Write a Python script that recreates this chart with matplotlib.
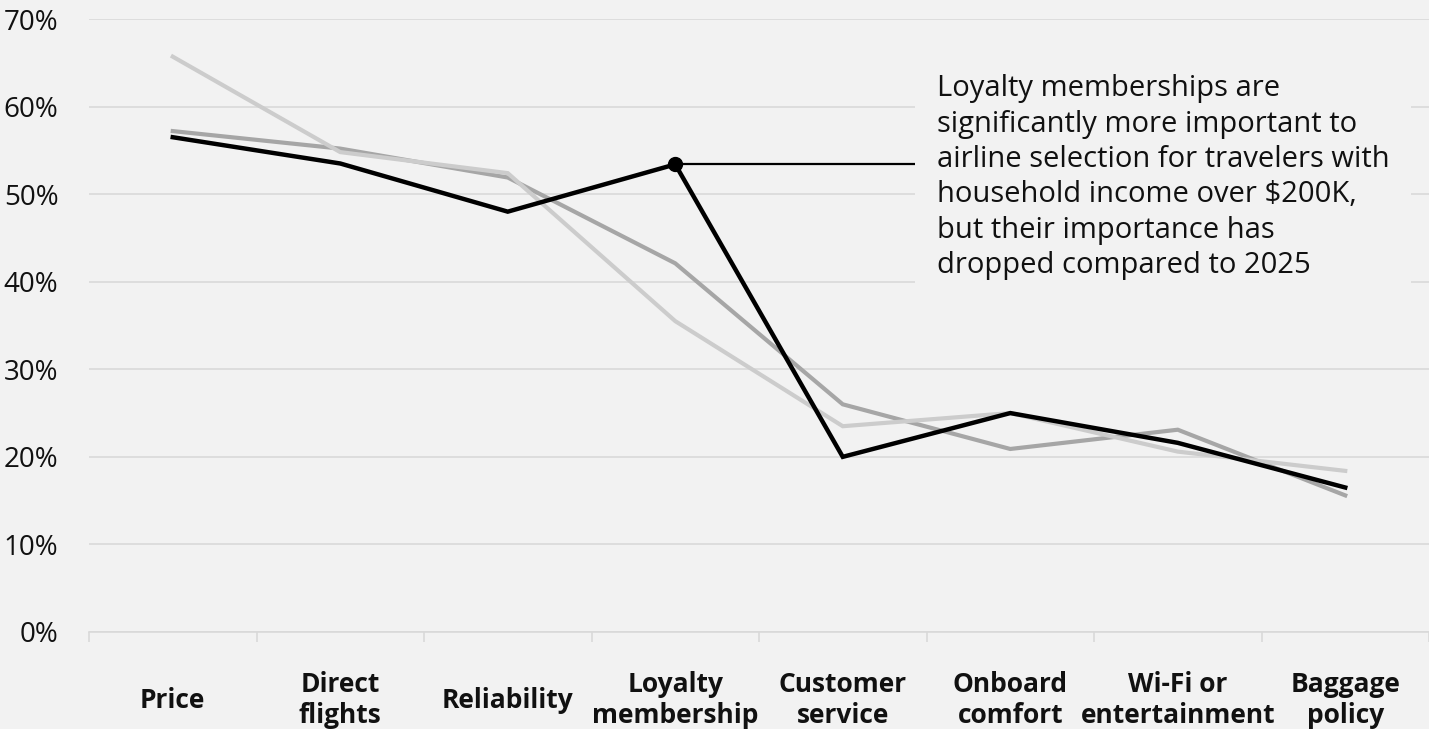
import numpy as np
import matplotlib
matplotlib.use("Agg")
import matplotlib.pyplot as plt

# Category labels along the x axis
categories = [
    "Price", "Direct\nflights", "Reliability", "Loyalty\nmembership",
    "Customer\nservice", "Onboard\ncomfort", "Wi-Fi or\nentertainment", "Baggage\npolicy",
]

# Share of respondents (%) per series
series_mid = [57.2, 55.2, 51.9, 42.1, 26.0, 20.9, 23.1, 15.6]
series_light = [65.7, 54.8, 52.4, 35.5, 23.5, 25.0, 20.6, 18.4]
series_dark = [56.5, 53.5, 48.0, 53.4, 20.0, 25.0, 21.6, 16.5]

y_ticks = [0, 10, 20, 30, 40, 50, 60, 70]
y_labels = ["0%", "10%", "20%", "30%", "40%", "50%", "60%", "70%"]

note = ("Loyalty memberships are\n"
        "significantly more important to\n"
        "airline selection for travelers with\n"
        "household income over $200K,\n"
        "but their importance has\n"
        "dropped compared to 2025")
highlight_idx = 3

BG = "#f2f2f2"
GRID = "#d9d9d9"

plt.rcParams["font.family"] = ["Open Sans", "DejaVu Sans"]

fig = plt.figure(figsize=(14.29, 7.29), dpi=100, facecolor=BG)
ax = fig.add_axes([89 / 1429, 97 / 729, 1340 / 1429, 613 / 729], facecolor=BG)

x = np.arange(len(categories))
ax.plot(x, series_mid, color="#a6a6a6", lw=3.0, solid_joinstyle="miter", zorder=3)
ax.plot(x, series_light, color="#cccccc", lw=3.0, solid_joinstyle="miter", zorder=3)
ax.plot(x, series_dark, color="#000000", lw=3.2, solid_joinstyle="miter", zorder=4)

# annotation: dot + leader line + boxed note
hx, hy = x[highlight_idx], series_dark[highlight_idx]
ax.plot([hx], [hy], "o", color="black", ms=10, zorder=5)
ax.plot([hx, 4.5], [hy, hy], color="black", lw=1.6, zorder=3)
ax.text(4.56, 63.7, note, fontsize=21, color="#111111", ha="left", va="top",
        linespacing=1.29, zorder=6,
        bbox=dict(boxstyle="square,pad=0.75", facecolor=BG, edgecolor="none"))

ax.set_xlim(-0.5, len(categories) - 0.5)
ax.set_ylim(0, 70)

ax.set_yticks(y_ticks, y_labels)
ax.yaxis.grid(True, color=GRID, lw=1.2, zorder=0)
ax.set_axisbelow(True)

ax.set_xticks(x, categories)
ax.set_xticks(np.arange(len(categories) + 1) - 0.5, minor=True)
ax.tick_params(axis="x", which="major", length=0, pad=49)
ax.tick_params(axis="x", which="minor", length=7, width=1.2, color=GRID)
ax.tick_params(axis="y", length=0, pad=22, labelsize=20, labelcolor="#111111")
for lab in ax.get_xticklabels():
    lab.set_fontsize(19)
    lab.set_fontweight("bold")
    lab.set_va("center")
    lab.set_color("#111111")

for side in ["top", "right", "left"]:
    ax.spines[side].set_visible(False)
ax.spines["bottom"].set_color(GRID)
ax.spines["bottom"].set_linewidth(1.2)

fig.savefig("out.png", dpi=100, facecolor=BG)
